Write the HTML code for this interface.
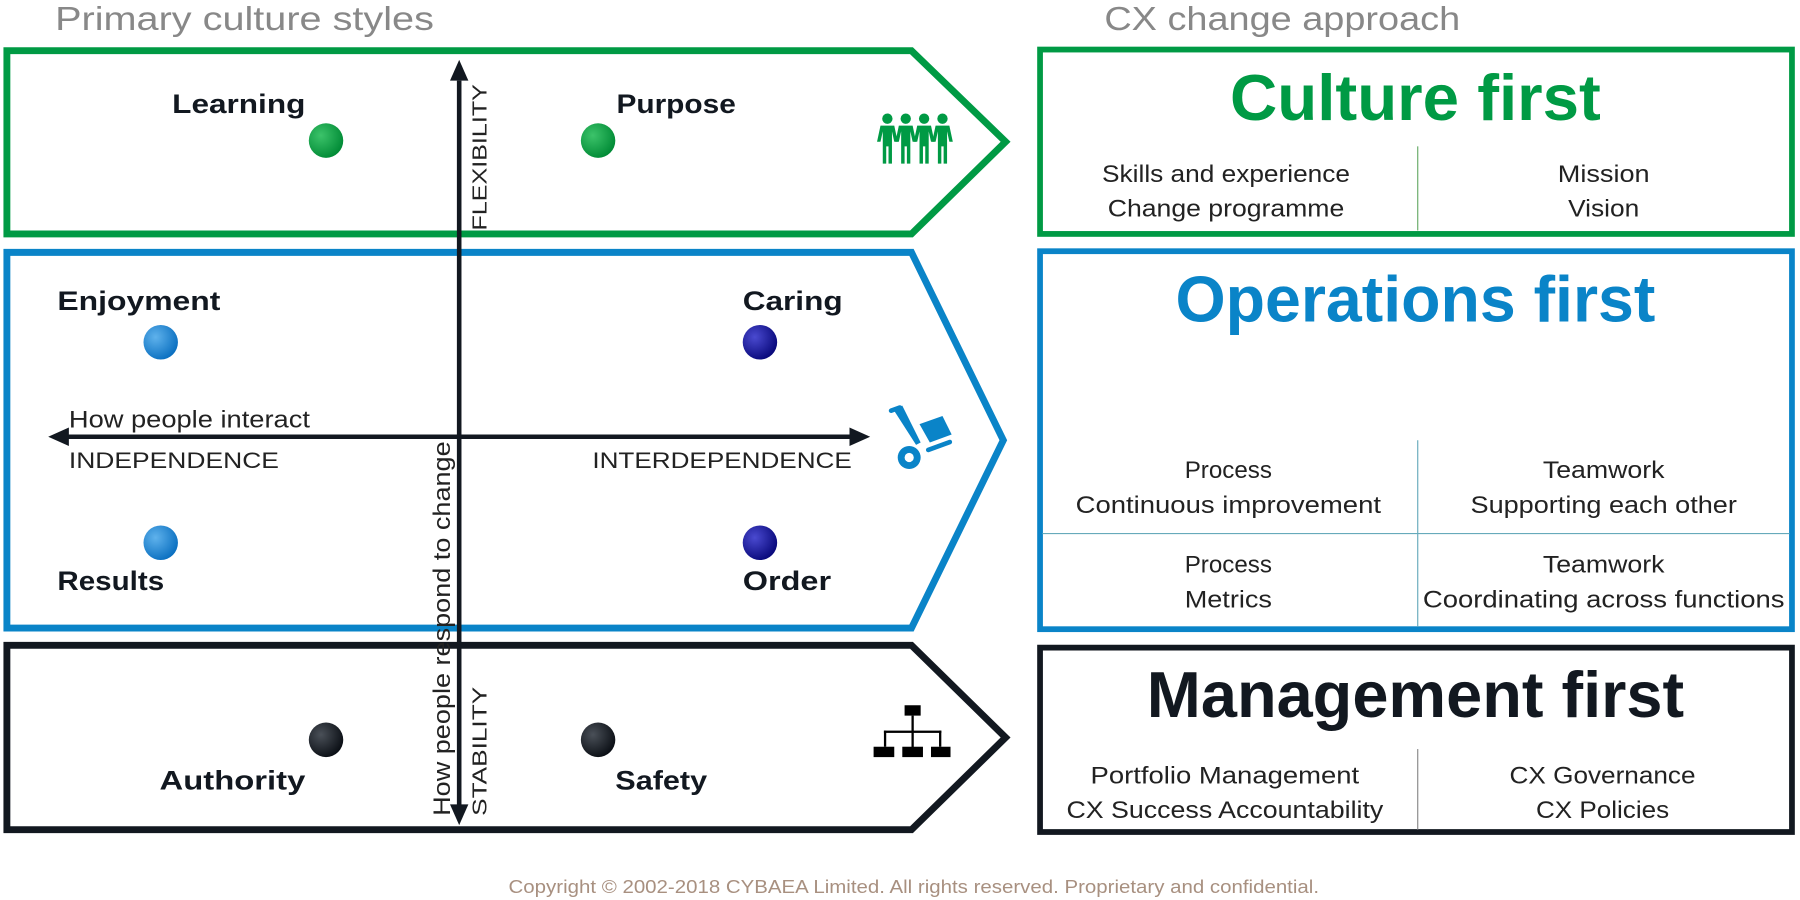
<!DOCTYPE html>
<html><head><meta charset="utf-8"><style>
html,body{margin:0;padding:0;background:#fff;width:1800px;height:900px;overflow:hidden}
svg{display:block}
text{font-family:"Liberation Sans",sans-serif}
</style></head><body>
<svg width="1800" height="900" viewBox="0 0 1568 781" preserveAspectRatio="none" xmlns="http://www.w3.org/2000/svg">
<defs>
<radialGradient id="gG" cx="35%" cy="35%" r="70%"><stop offset="0" stop-color="#3cc36a"/><stop offset="1" stop-color="#008a35"/></radialGradient>
<radialGradient id="gB" cx="35%" cy="35%" r="70%"><stop offset="0" stop-color="#5fb2ec"/><stop offset="1" stop-color="#0a6fc0"/></radialGradient>
<radialGradient id="gN" cx="35%" cy="35%" r="70%"><stop offset="0" stop-color="#4a4ad0"/><stop offset="1" stop-color="#08087a"/></radialGradient>
<radialGradient id="gK" cx="35%" cy="35%" r="70%"><stop offset="0" stop-color="#4a5058"/><stop offset="1" stop-color="#0a0e14"/></radialGradient>
</defs>
<text x="48" y="26" font-size="29" fill="#888" textLength="330" lengthAdjust="spacingAndGlyphs">Primary culture styles</text>
<text x="962" y="26" font-size="29" fill="#888" textLength="310" lengthAdjust="spacingAndGlyphs">CX change approach</text>

<polygon points="6,44 794,44 876,123 794,203 6,203" fill="none" stroke="#009a44" stroke-width="6"/>
<polygon points="6,219 794,219 874,382 794,545 6,545" fill="none" stroke="#0a84c8" stroke-width="6"/>
<polygon points="6,560 794,560 876,640 794,720 6,720" fill="none" stroke="#121820" stroke-width="6"/>

<rect x="906" y="43" width="655" height="160" fill="none" stroke="#009a44" stroke-width="5"/>
<rect x="906" y="218" width="655" height="328" fill="none" stroke="#0a84c8" stroke-width="5"/>
<rect x="906" y="562" width="655" height="160" fill="none" stroke="#121820" stroke-width="5"/>

<line x1="400" y1="70" x2="400" y2="700" stroke="#121820" stroke-width="4"/>
<polygon points="400,52 392,70 408,70" fill="#121820"/>
<polygon points="400,716 392,698 408,698" fill="#121820"/>
<line x1="58" y1="379" x2="742" y2="379" stroke="#121820" stroke-width="4"/>
<polygon points="42,379 60,371 60,387" fill="#121820"/>
<polygon points="758,379 740,371 740,387" fill="#121820"/>
<text transform="translate(424,200) rotate(-90)" font-size="18" fill="#222" textLength="127" lengthAdjust="spacingAndGlyphs">FLEXIBILITY</text>
<text transform="translate(424,708) rotate(-90)" font-size="18" fill="#222" textLength="112" lengthAdjust="spacingAndGlyphs">STABILITY</text>
<text transform="translate(392,708) rotate(-90)" font-size="21" fill="#222" textLength="325" lengthAdjust="spacingAndGlyphs">How people respond to change</text>
<text x="60" y="371" font-size="21" fill="#222" textLength="210" lengthAdjust="spacingAndGlyphs">How people interact</text>
<text x="60" y="406" font-size="19" fill="#222" textLength="183" lengthAdjust="spacingAndGlyphs">INDEPENDENCE</text>
<text x="516" y="406" font-size="19" fill="#222" textLength="226" lengthAdjust="spacingAndGlyphs">INTERDEPENDENCE</text>

<g font-size="23" font-weight="bold" fill="#121820">
<text x="150" y="98" textLength="116" lengthAdjust="spacingAndGlyphs">Learning</text>
<text x="537" y="98" textLength="104" lengthAdjust="spacingAndGlyphs">Purpose</text>
<text x="50" y="269" textLength="142" lengthAdjust="spacingAndGlyphs">Enjoyment</text>
<text x="647" y="269" textLength="87" lengthAdjust="spacingAndGlyphs">Caring</text>
<text x="50" y="512" textLength="93" lengthAdjust="spacingAndGlyphs">Results</text>
<text x="647" y="512" textLength="77" lengthAdjust="spacingAndGlyphs">Order</text>
<text x="139" y="685" textLength="127" lengthAdjust="spacingAndGlyphs">Authority</text>
<text x="536" y="685" textLength="80" lengthAdjust="spacingAndGlyphs">Safety</text>
</g>
<circle cx="284" cy="122" r="15" fill="url(#gG)"/>
<circle cx="521" cy="122" r="15" fill="url(#gG)"/>
<circle cx="140" cy="297" r="15" fill="url(#gB)"/>
<circle cx="662" cy="297" r="15" fill="url(#gN)"/>
<circle cx="140" cy="471" r="15" fill="url(#gB)"/>
<circle cx="662" cy="471" r="15" fill="url(#gN)"/>
<circle cx="284" cy="642" r="15" fill="url(#gK)"/>
<circle cx="521" cy="642" r="15" fill="url(#gK)"/>

<g fill="#009a44">
<g id="p"><circle cx="773" cy="103" r="4.5"/><path d="M767,109 h12 l3,14 h-3 l-2,-9 v28 h-3 v-15 h-2 v15 h-3 v-28 l-2,9 h-3 z"/></g>
<use href="#p" x="16"/><use href="#p" x="32"/><use href="#p" x="48"/>
</g>
<g fill="#0a84c8">
<path d="M778,355 l8,-3 l16,32 l-4,2 z"/>
<rect x="774" y="353" width="12" height="4" rx="2" transform="rotate(-20 780 355)"/>
<polygon points="801,368 821,361 829,377 810,384"/>
<rect x="806" y="385" width="24" height="4" rx="2" transform="rotate(-20 818 387)"/>
<circle cx="792" cy="397" r="10"/>
<circle cx="792" cy="397" r="4" fill="#fff"/>
</g>
<g fill="#000">
<rect x="788" y="612" width="14" height="9"/>
<rect x="794" y="621" width="2" height="29"/>
<rect x="770" y="634" width="50" height="2"/>
<rect x="770" y="634" width="2" height="14"/><rect x="818" y="634" width="2" height="14"/>
<rect x="761" y="648" width="18" height="9"/><rect x="786" y="648" width="18" height="9"/><rect x="811" y="648" width="17" height="9"/>
</g>

<text x="1233" y="104" font-size="56" font-weight="bold" fill="#009a44" text-anchor="middle" textLength="323" lengthAdjust="spacingAndGlyphs">Culture first</text>
<text x="1233" y="279" font-size="56" font-weight="bold" fill="#0a84c8" text-anchor="middle" textLength="418" lengthAdjust="spacingAndGlyphs">Operations first</text>
<text x="1233" y="622" font-size="56" font-weight="bold" fill="#121820" text-anchor="middle" textLength="468" lengthAdjust="spacingAndGlyphs">Management first</text>

<line x1="1235" y1="127" x2="1235" y2="200" stroke="#6a6" stroke-width="1"/>
<line x1="1235" y1="382" x2="1235" y2="544" stroke="#6ab" stroke-width="1"/>
<line x1="908" y1="463" x2="1559" y2="463" stroke="#6ab" stroke-width="1"/>
<line x1="1235" y1="650" x2="1235" y2="720" stroke="#888" stroke-width="1"/>

<g font-size="21" fill="#222" text-anchor="middle">
<text x="1068" y="158" textLength="216" lengthAdjust="spacingAndGlyphs">Skills and experience</text>
<text x="1068" y="188" textLength="206" lengthAdjust="spacingAndGlyphs">Change programme</text>
<text x="1397" y="158" textLength="80" lengthAdjust="spacingAndGlyphs">Mission</text>
<text x="1397" y="188" textLength="62" lengthAdjust="spacingAndGlyphs">Vision</text>
<text x="1070" y="415" textLength="76" lengthAdjust="spacingAndGlyphs">Process</text>
<text x="1070" y="445" textLength="266" lengthAdjust="spacingAndGlyphs">Continuous improvement</text>
<text x="1397" y="415" textLength="106" lengthAdjust="spacingAndGlyphs">Teamwork</text>
<text x="1397" y="445" textLength="232" lengthAdjust="spacingAndGlyphs">Supporting each other</text>
<text x="1070" y="497" textLength="76" lengthAdjust="spacingAndGlyphs">Process</text>
<text x="1070" y="527" textLength="76" lengthAdjust="spacingAndGlyphs">Metrics</text>
<text x="1397" y="497" textLength="106" lengthAdjust="spacingAndGlyphs">Teamwork</text>
<text x="1397" y="527" textLength="315" lengthAdjust="spacingAndGlyphs">Coordinating across functions</text>
<text x="1067" y="680" textLength="234" lengthAdjust="spacingAndGlyphs">Portfolio Management</text>
<text x="1067" y="710" textLength="276" lengthAdjust="spacingAndGlyphs">CX Success Accountability</text>
<text x="1396" y="680" textLength="162" lengthAdjust="spacingAndGlyphs">CX Governance</text>
<text x="1396" y="710" textLength="116" lengthAdjust="spacingAndGlyphs">CX Policies</text>
</g>
<text x="796" y="775" font-family="Liberation Serif" font-size="16" fill="#a89080" text-anchor="middle" textLength="706" lengthAdjust="spacingAndGlyphs">Copyright © 2002-2018 CYBAEA Limited. All rights reserved. Proprietary and confidential.</text>
</svg>
</body></html>
